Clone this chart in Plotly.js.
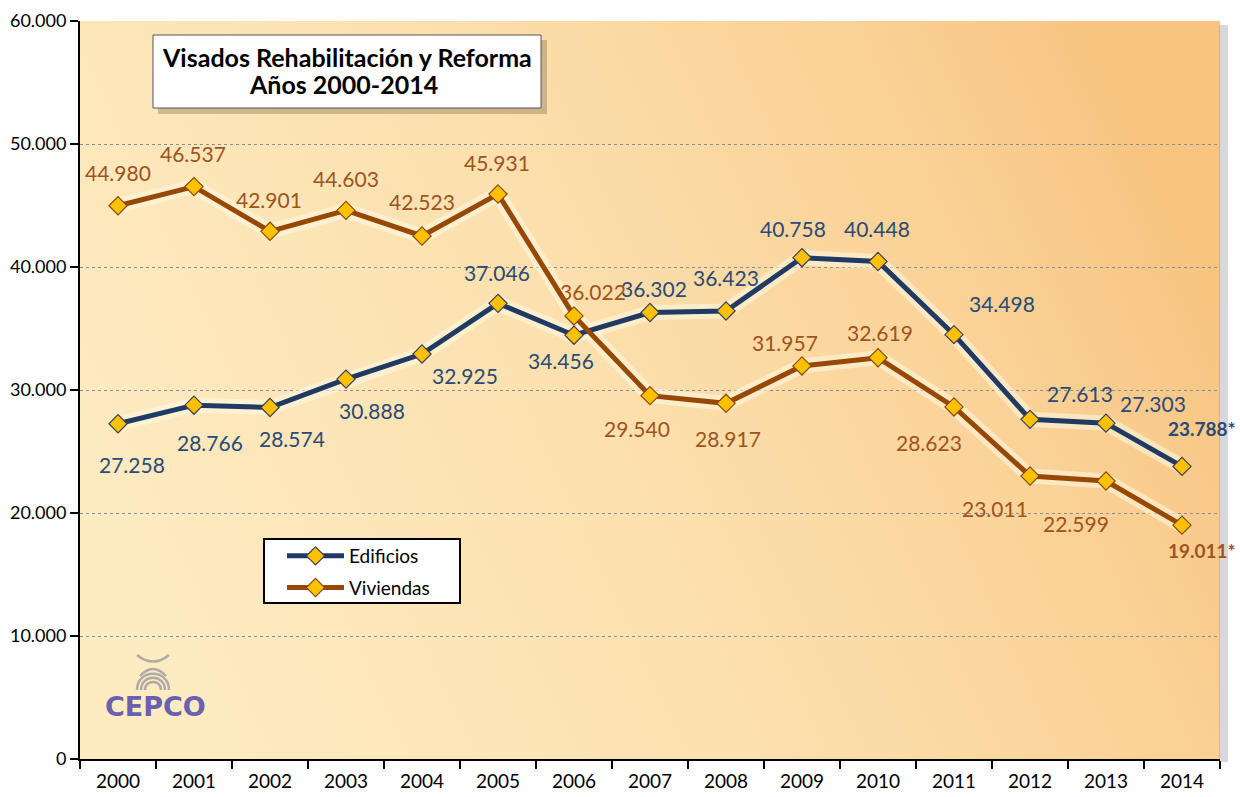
<!DOCTYPE html>
<html>
<head>
<meta charset="utf-8">
<script src="https://cdn.plot.ly/plotly-3.0.1.min.js"></script>
<style>
html,body{margin:0;padding:0;background:#fff;}
#chart{width:1240px;height:797px;}
</style>
</head>
<body>
<div id="chart"></div>
<script>
// ---- data ----
const years = ["2000","2001","2002","2003","2004","2005","2006","2007","2008","2009","2010","2011","2012","2013","2014"];
const edificios = [27258, 28766, 28574, 30888, 32925, 37046, 34456, 36302, 36423, 40758, 40448, 34498, 27613, 27303, 23788];
const viviendas = [44980, 46537, 42901, 44603, 42523, 45931, 36022, 29540, 28917, 31957, 32619, 28623, 23011, 22599, 19011];
const yTicks = [0, 10000, 20000, 30000, 40000, 50000, 60000];
const titleLines = ["Visados Rehabilitación y Reforma", "Años 2000-2014"];
const seriesNames = ["Edificios", "Viviendas"];
const provisionalMark = "*"; // last year is provisional

// ---- label placement (pixel offsets, dy positive = down) ----
const edOff = [[14,41],[16,37],[22,31],[26,31],[43,21],[-1,-31],[-13,25],[4,-24],[0,-34],[-9,-29],[-1,-33],[48,-31],[50,-26],[47,-20],[56,-38]];
const viOff = [[0,-33],[-1,-33],[-1,-32],[0,-32],[0,-34],[-1,-32],[19,-24],[-13,33],[2,35],[-17,-23],[2,-25],[-25,36],[-35,33],[-30,42],[56,25]];

// ---- styles ----
const W = 1240, H = 797;
const M = {l:80, r:20, t:21, b:38};
const PW = W - M.l - M.r, PH = H - M.t - M.b;
const FONT = "Lato, 'Open Sans', sans-serif";
const edColor = "#1F3A63", viColor = "#974806";
const edText = "#2B4A75", viText = "#A0531C";
const gold = "#FFC000";
const NBSP = "\u00a0";

function fmt(v){
  return String(v).replace(/\B(?=(\d{3})+(?!\d))/g, ".");
}
function px2x(p){ return (p - M.l) / PW; }
function px2y(p){ return (H - M.b - p) / PH; }

const halo = (ys) => ({
  x: years, y: ys, type: "scatter", mode: "lines",
  line: {color: "rgba(255,250,228,0.55)", width: 15},
  hoverinfo: "skip", showlegend: false
});

const traces = [
  halo(edificios), halo(viviendas),
  {
    x: years, y: edificios, type: "scatter", mode: "lines+markers",
    name: seriesNames[0] + NBSP.repeat(9), legendgroup: "a",
    line: {color: edColor, width: 5},
    marker: {symbol: "diamond", size: 14, color: gold, line: {color: "#3B3F5C", width: 1.2}},
    cliponaxis: false
  },
  {
    x: years, y: viviendas, type: "scatter", mode: "lines+markers",
    name: seriesNames[1] + NBSP.repeat(9), legendgroup: "b",
    line: {color: viColor, width: 5},
    marker: {symbol: "diamond", size: 14, color: gold, line: {color: "#8A4A05", width: 1.2}},
    cliponaxis: false
  }
];

const annotations = [];
function addLabels(vals, offs, color){
  vals.forEach((v, i) => {
    const last = i === vals.length - 1;
    annotations.push({
      x: i, y: v, xref: "x", yref: "y",
      text: last ? "<b>" + fmt(v) + provisionalMark + "</b>" : fmt(v),
      showarrow: false, xanchor: last ? "right" : "center", yanchor: "middle",
      xshift: offs[i][0], yshift: -offs[i][1],
      font: {family: FONT, size: last ? 19 : 21, color: color}
    });
  });
}
addLabels(edificios, edOff, edText);
addLabels(viviendas, viOff, viText);

// title box text (one annotation per line)
[[titleLines[0], 347, 57], [titleLines[1], 343, 84]].forEach(([t, xp, yp]) => {
  annotations.push({
    xref: "paper", yref: "paper", x: px2x(xp), y: px2y(yp),
    text: "<b>" + t + "</b>", showarrow: false, xanchor: "center", yanchor: "middle",
    font: {family: FONT, size: 25, color: "#000"}
  });
});
// CEPCO logo text
annotations.push({
  xref: "paper", yref: "paper",
  x: px2x(155), y: px2y(706),
  text: "<b>CEPCO</b>",
  showarrow: false, xanchor: "center", yanchor: "middle",
  font: {family: "'DejaVu Sans', sans-serif", size: 27, color: "#6A60B0"}
});

const gradSvg =
  '<svg xmlns="http://www.w3.org/2000/svg" width="1000" height="1000" preserveAspectRatio="none" viewBox="0 0 1000 1000">' +
  '<defs><linearGradient id="g" x1="0" y1="0.65" x2="1" y2="0.35">' +
  '<stop offset="0" stop-color="#FDEBC2"/>' +
  '<stop offset="0.45" stop-color="#FCE0AE"/>' +
  '<stop offset="0.8" stop-color="#FAD196"/>' +
  '<stop offset="1" stop-color="#F8C480"/>' +
  '</linearGradient></defs>' +
  '<rect width="1000" height="1000" fill="url(#g)"/></svg>';

// logo arches (pixel centre 153,688)
function arch(cx, cy, r){
  const x0 = px2x(cx - r), x1 = px2x(cx + r);
  return {type: "path", xref: "paper", yref: "paper",
    path: "M " + x0 + "," + px2y(cy) + " C " + x0 + "," + px2y(cy - r * 1.35) + " " + x1 + "," + px2y(cy - r * 1.35) + " " + x1 + "," + px2y(cy),
    line: {color: "rgba(150,150,160,0.75)", width: 2.5}};
}

const shapes = [
  // right-side shadow of plot area
  {type: "rect", xref: "paper", yref: "paper", x0: px2x(1219), x1: px2x(1228), y0: px2y(762), y1: px2y(25),
   fillcolor: "rgba(140,140,160,0.35)", line: {width: 0}, layer: "below"},
  // title box shadow
  {type: "rect", xref: "paper", yref: "paper", x0: px2x(158), x1: px2x(547), y0: px2y(114), y1: px2y(40),
   fillcolor: "rgba(120,100,70,0.35)", line: {width: 0}},
  // title box
  {type: "rect", xref: "paper", yref: "paper", x0: px2x(153), x1: px2x(541), y0: px2y(108), y1: px2y(35),
   fillcolor: "#FFFFFF", line: {color: "#555555", width: 1}},
  // legend box
  {type: "rect", xref: "paper", yref: "paper", x0: px2x(264), x1: px2x(460), y0: px2y(603), y1: px2y(539),
   fillcolor: "#FFFFFF", line: {color: "#000000", width: 2}},
  arch(153, 690, 8), arch(153, 690, 12), arch(153, 690, 16),
  {type: "path", xref: "paper", yref: "paper",
   path: "M " + px2x(137) + "," + px2y(655) + " Q " + px2x(153) + "," + px2y(668) + " " + px2x(169) + "," + px2y(655) +
         " M " + px2x(140) + "," + px2y(676) + " Q " + px2x(153) + "," + px2y(662) + " " + px2x(166) + "," + px2y(676),
   line: {color: "rgba(150,150,160,0.75)", width: 2.5}}
];

const layout = {
  width: W, height: H,
  margin: M,
  paper_bgcolor: "#FFFFFF",
  plot_bgcolor: "rgba(0,0,0,0)",
  separators: ",.",
  font: {family: FONT, color: "#000"},
  showlegend: true,
  legend: {
    x: px2x(282), y: px2y(537), xanchor: "left", yanchor: "top",
    bgcolor: "rgba(0,0,0,0)", borderwidth: 0,
    font: {family: FONT, size: 19, color: "#000"},
    itemwidth: 57, tracegroupgap: 4, traceorder: "grouped"
  },
  xaxis: {
    type: "category", range: [-0.5, 14.5],
    showline: true, linecolor: "#000", linewidth: 2,
    ticks: "outside", tickson: "boundaries", ticklen: 8, tickwidth: 2, tickcolor: "#000",
    tickfont: {family: FONT, size: 19, color: "#000"}, ticklabelstandoff: 4,
    showgrid: false, zeroline: false, fixedrange: true
  },
  yaxis: {
    range: [0, 60000], tickvals: yTicks, tickformat: ",",
    showline: true, linecolor: "#000", linewidth: 2,
    ticks: "outside", ticklen: 8, tickwidth: 2, tickcolor: "#000",
    tickfont: {family: FONT, size: 18, color: "#000"},
    showgrid: true, gridcolor: "#858C9A", gridwidth: 1, griddash: "dot",
    zeroline: false, fixedrange: true
  },
  images: [{
    source: "data:image/svg+xml;charset=utf-8," + encodeURIComponent(gradSvg),
    xref: "paper", yref: "paper", x: 0, y: 1, sizex: 1, sizey: 1,
    sizing: "stretch", xanchor: "left", yanchor: "top", layer: "below"
  }],
  shapes: shapes,
  annotations: annotations
};

Plotly.newPlot("chart", traces, layout, {displayModeBar: false, staticPlot: true});
</script>
</body>
</html>
